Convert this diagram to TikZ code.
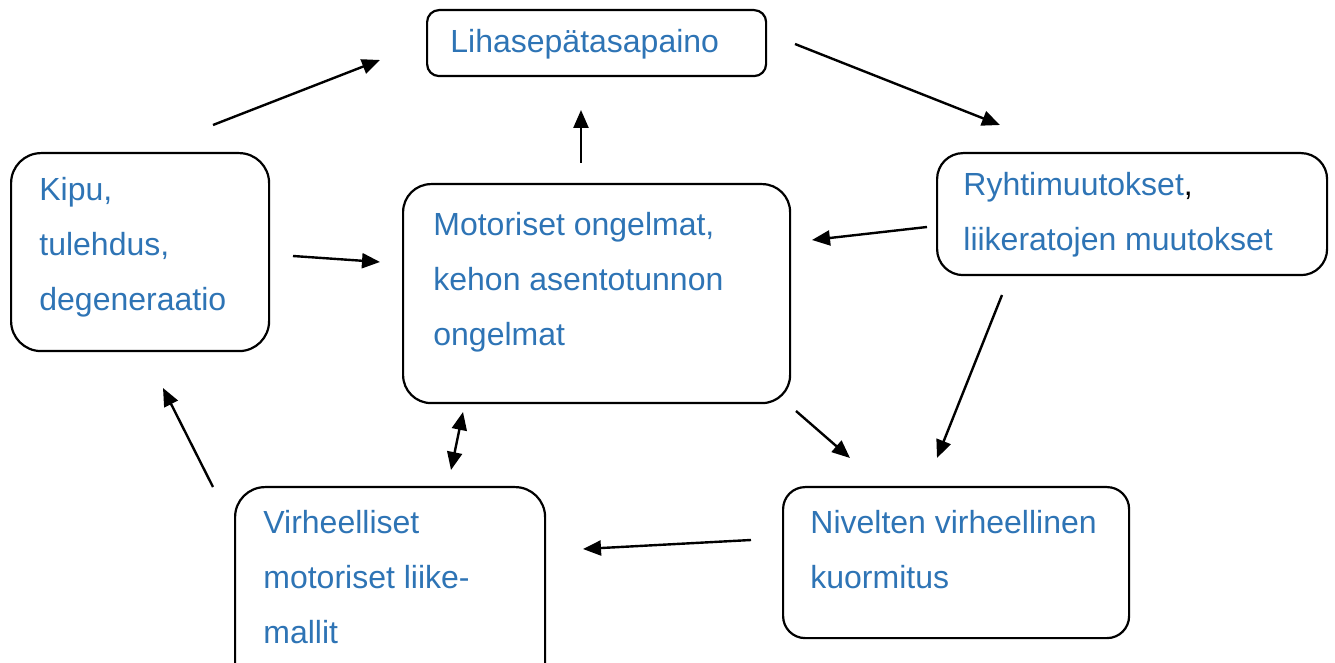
\documentclass[tikz,border=0pt]{standalone}
\usepackage{fontspec}
\setmainfont{Liberation Sans}
\usetikzlibrary{arrows.meta}
\definecolor{txtblue}{RGB}{46,116,181}
\tikzset{
  box/.style={draw=black,line width=1.1pt,rounded corners=#1,inner sep=0pt,anchor=north west},
  box/.default=14pt,
  lbl/.style={text=txtblue,font=\fontsize{16}{27.5}\selectfont,align=left,anchor=north west,inner sep=0pt},
  arr/.style={line width=1.2pt,-{Triangle[length=9pt,width=7.5pt]}},
  dblarr/.style={line width=1.2pt,{Triangle[length=9pt,width=7.5pt]}-{Triangle[length=9pt,width=7.5pt]}},
}
\begin{document}
\begin{tikzpicture}[x=0.5pt,y=-0.5pt]
\useasboundingbox (0,0) rectangle (1335,663);
% boxes (pixel grid of the page, y down)
\node[box=6pt,minimum width=169.5pt,minimum height=33pt] (lihas) at (426,9) {};
\node[box=15pt,minimum width=129pt,minimum height=99pt] (kipu) at (10,152) {};
\node[box=14pt,minimum width=193.5pt,minimum height=109.5pt] (motor) at (402,183) {};
\node[box=13pt,minimum width=195pt,minimum height=61pt] (ryhti) at (936,152) {};
\node[box=11pt,minimum width=173pt,minimum height=75.5pt] (nivel) at (782,486) {};
\node[box=15pt,minimum width=155pt,minimum height=107pt] (virhe) at (234,486) {};
% texts
\node[lbl] (lihas-t) at (450,29) {Lihasepätasapaino};
\node[lbl] (kipu-t) at (39,177) {Kipu,\\tulehdus,\\degeneraatio};
\node[lbl] (motor-t) at (433,212) {Motoriset ongelmat,\\kehon asentotunnon\\ongelmat};
\node[lbl] (ryhti-t) at (963,172) {Ryhtimuutokset\textcolor{black}{,}\\liikeratojen muutokset};
\node[lbl] (nivel-t) at (810,510) {Nivelten virheellinen\\kuormitus};
\node[lbl] (virhe-t) at (263,510) {Virheelliset\\motoriset liike-\\mallit};
% arrow ends
\coordinate (kipu-up) at (213,125);   \coordinate (lihas-w) at (380,60);
\coordinate (lihas-e) at (795,44);    \coordinate (ryhti-up) at (1000,125);
\coordinate (motor-up) at (581,163);  \coordinate (lihas-s) at (581,110);
\coordinate (ryhti-w) at (927,227);   \coordinate (motor-e) at (812,240);
\coordinate (ryhti-s) at (1002,295);  \coordinate (nivel-ne) at (937,458);
\coordinate (motor-se) at (796,411);  \coordinate (nivel-nw) at (850,458);
\coordinate (nivel-w) at (751,540);   \coordinate (virhe-e) at (583,549);
\coordinate (virhe-n) at (451,470);   \coordinate (motor-s) at (463,412);
\coordinate (virhe-nw) at (213,487);  \coordinate (kipu-s) at (163,388);
\coordinate (kipu-e) at (293,256);    \coordinate (motor-w) at (380,262);
% connectors
\draw[arr] (kipu-up) -- (lihas-w);
\draw[arr] (lihas-e) -- (ryhti-up);
\draw[arr] (motor-up) -- (lihas-s);
\draw[arr] (ryhti-w) -- (motor-e);
\draw[arr] (ryhti-s) -- (nivel-ne);
\draw[arr] (motor-se) -- (nivel-nw);
\draw[arr] (nivel-w) -- (virhe-e);
\draw[dblarr] (virhe-n) -- (motor-s);
\draw[arr] (virhe-nw) -- (kipu-s);
\draw[arr] (kipu-e) -- (motor-w);
\end{tikzpicture}
\end{document}
